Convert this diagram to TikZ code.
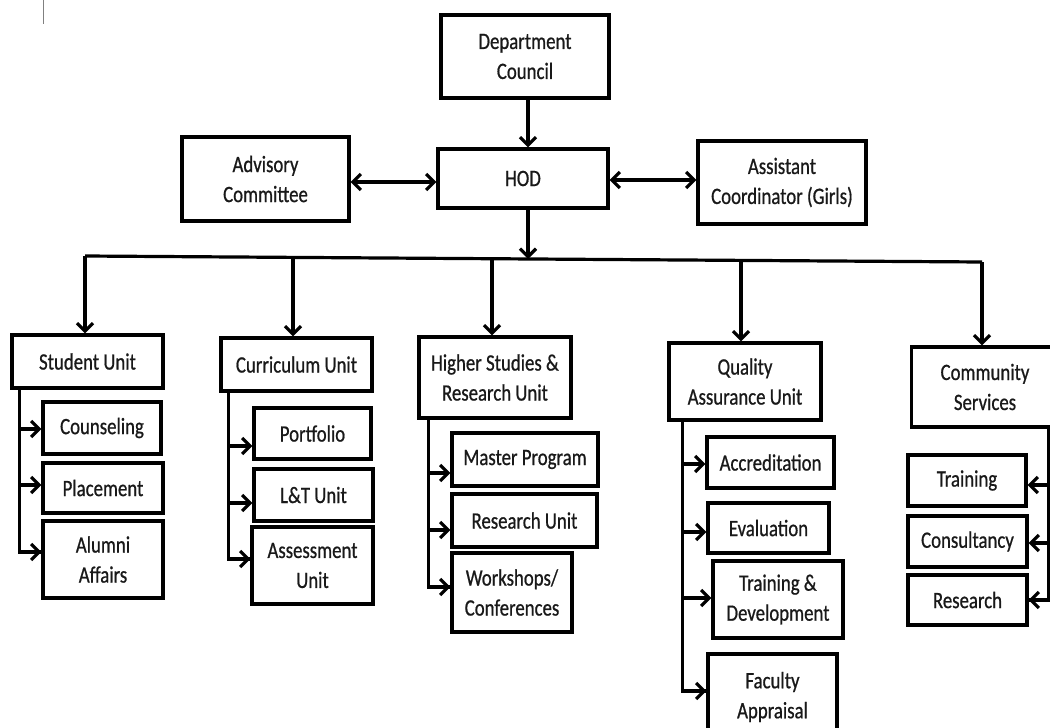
\documentclass[tikz,border=0pt]{standalone}
\usepackage{fontspec}
\setmainfont{Carlito}[FakeStretch=0.8,FakeBold=0.7]
\usetikzlibrary{arrows.meta}
\newcommand\branchto[3]{\coordinate (tmpend) at ([yshift=#3]#2); \draw[arr] (#1 |- tmpend) -- (tmpend);}
\begin{document}
\begin{tikzpicture}[x=1pt,y=-1pt,
  box/.style={draw=black, line width=3.2pt, inner sep=0pt, align=center,
    font=\fontsize{23.5}{30}\selectfont, text=black!90},
  conn/.style={line width=3.2pt, draw=black},
  arr/.style={conn, -{Straight Barb[length=8pt,width=16pt]}},
  dbl/.style={conn, {Straight Barb[length=8pt,width=16pt]}-{Straight Barb[length=8pt,width=16pt]}}]
\clip (0,0) rectangle (1050,728);
\fill[white] (0,0) rectangle (1050,728);
\draw[gray, line width=1pt] (43,0) -- (43,24);
% top
\node[box, minimum width=168pt, minimum height=83pt] (dc) at (525,56.5) {Department\\Council};
\node[box, minimum width=170pt, minimum height=59pt] (hod) at (523,178.5) {HOD};
\node[box, minimum width=167pt, minimum height=84pt] (adv) at (265.5,179) {Advisory\\Committee};
\node[box, minimum width=168pt, minimum height=83pt] (asst) at (782,182.5) {Assistant\\Coordinator (Girls)};
% units
\node[box, minimum width=151pt, minimum height=53pt] (stu) at (87.5,361.5) {Student Unit};
\node[box, minimum width=151pt, minimum height=53pt] (cur) at (296.5,364.5) {Curriculum Unit};
\node[box, minimum width=152pt, minimum height=81pt] (hs) at (495,377.5) {Higher Studies \&\\Research Unit};
\node[box, minimum width=152pt, minimum height=77pt] (qa) at (745,381.5) {Quality\\Assurance Unit};
\node[box, minimum width=147pt, minimum height=80pt] (cs) at (985,387) {Community\\Services};
% sub units
\node[box, minimum width=118pt, minimum height=52pt] (coun) at (102,428) {Counseling};
\node[box, minimum width=120pt, minimum height=50pt] (plac) at (103,488) {Placement};
\node[box, minimum width=120pt, minimum height=77pt] (alum) at (103,559.5) {Alumni\\Affairs};
\node[box, minimum width=117pt, minimum height=51pt] (port) at (312.5,433.5) {Portfolio};
\node[box, minimum width=119pt, minimum height=52pt] (lt) at (313.5,495) {L\&T Unit};
\node[box, minimum width=121pt, minimum height=77pt] (ass) at (312.5,565.5) {Assessment\\Unit};
\node[box, minimum width=146pt, minimum height=53pt] (mp) at (525,459.5) {Master Program};
\node[box, minimum width=145pt, minimum height=53pt] (ru) at (524.5,520.5) {Research Unit};
\node[box, minimum width=120pt, minimum height=79pt] (ws) at (512,592.5) {Workshops/\\Conferences};
\node[box, minimum width=127pt, minimum height=51pt] (acc) at (770.5,462.5) {Accreditation};
\node[box, minimum width=121pt, minimum height=50pt] (ev) at (768.5,528) {Evaluation};
\node[box, minimum width=130pt, minimum height=77pt] (td) at (778,599.5) {Training \&\\Development};
\node[box, minimum width=129pt, minimum height=86pt] (fa) at (772.5,697) {Faculty\\Appraisal};
\node[box, minimum width=118pt, minimum height=51pt] (tr) at (967,480.5) {Training};
\node[box, minimum width=119pt, minimum height=51pt] (con) at (967.5,541.5) {Consultancy};
\node[box, minimum width=119pt, minimum height=50pt] (res) at (967.5,600) {Research};
% top connectors
\draw[arr] ([xshift=3pt]dc.south) -- ([xshift=5pt]hod.north);
\draw[dbl] ([yshift=-3pt]adv.east) -- ([yshift=-3.5pt]hod.west);
\draw[dbl] ([yshift=-1.5pt]hod.east) -- ([yshift=2.5pt]asst.west);
% bus
\coordinate (b1) at (85,256);
\coordinate (b2) at (293,257.4);
\coordinate (bh) at (528,259);
\coordinate (b3) at (492,258.7);
\coordinate (b4) at (741,260.4);
\coordinate (b5) at (982,262);
\draw[conn] (b1) -- (b5);
\draw[arr] ([xshift=5pt]hod.south) -- (bh);
\draw[arr] (b1) -- (b1 |- stu.north);
\draw[arr] (b2) -- (b2 |- cur.north);
\draw[arr] (b3) -- (b3 |- hs.north);
\draw[arr] (b4) -- (b4 |- qa.north);
\draw[arr] (b5) -- (b5 |- cs.north);
% student spine
\coordinate (sS) at ([xshift=9pt]stu.south west);
\draw[conn] (sS) |- ([yshift=7.5pt]alum.west);
\branchto{sS}{coun.west}{-1pt}
\branchto{sS}{plac.west}{3pt}
\branchto{sS}{alum.west}{7.5pt}
% curriculum spine
\coordinate (cS) at ([xshift=9pt]cur.south west);
\draw[conn] (cS) |- ([yshift=6.5pt]ass.west);
\branchto{cS}{port.west}{-12.5pt}
\branchto{cS}{lt.west}{-8pt}
\branchto{cS}{ass.west}{6.5pt}
% higher studies spine
\coordinate (hS) at ([xshift=11pt]hs.south west);
\draw[conn] (hS) |- ([yshift=5.5pt]ws.west);
\branchto{hS}{mp.west}{-13.5pt}
\branchto{hS}{ru.west}{-9.5pt}
\branchto{hS}{ws.west}{5.5pt}
% QA spine
\coordinate (qS) at ([xshift=15pt]qa.south west);
\draw[conn] (qS) |- ([yshift=6pt]fa.west);
\branchto{qS}{acc.west}{-1.5pt}
\branchto{qS}{ev.west}{-4pt}
\branchto{qS}{td.west}{1.5pt}
\branchto{qS}{fa.west}{6pt}
% community spine
\coordinate (csS) at (1049,427);
\draw[conn] (csS) |- (res.east);
\branchto{csS}{tr.east}{-4.5pt}
\branchto{csS}{con.east}{-1.5pt}
\branchto{csS}{res.east}{0pt}
\end{tikzpicture}
\end{document}
